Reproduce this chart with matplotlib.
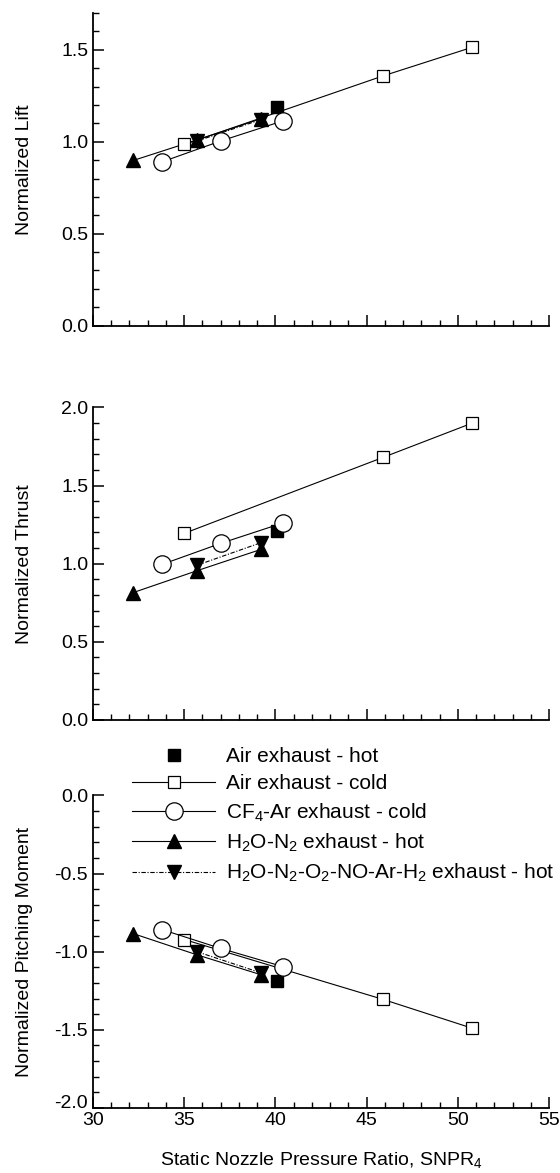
import matplotlib
matplotlib.use("Agg")
import matplotlib.pyplot as plt
from matplotlib.ticker import MultipleLocator, FuncFormatter
from matplotlib.lines import Line2D
from matplotlib.transforms import ScaledTranslation, blended_transform_factory

plt.rcParams['font.family'] = ['Liberation Sans', 'DejaVu Sans']
plt.rcParams['mathtext.default'] = 'regular'

# series x positions (static nozzle pressure ratio)
air_hot_x = [40.1]
air_cold_x = [35.0, 45.9, 50.8]
cf4_x = [33.8, 37.0, 40.4]
h2o_x = [32.2, 35.7, 39.2]
mix_x = [35.7, 39.2]

# normalized lift
air_hot_lift = [1.19]
air_cold_lift = [0.985, 1.358, 1.514]
cf4_lift = [0.891, 1.004, 1.113]
h2o_lift = [0.898, 1.01, 1.125]
mix_lift = [1.004, 1.12]

# normalized thrust
air_hot_thrust = [1.21]
air_cold_thrust = [1.194, 1.68, 1.90]
cf4_thrust = [0.996, 1.13, 1.26]
h2o_thrust = [0.815, 0.955, 1.091]
mix_thrust = [0.99, 1.134]

# normalized pitching moment
air_hot_pm = [-1.19]
air_cold_pm = [-0.922, -1.305, -1.49]
cf4_pm = [-0.859, -0.979, -1.095]
h2o_pm = [-0.884, -1.02, -1.147]
mix_pm = [-1.0, -1.135]

labels = ["Air exhaust - hot", "Air exhaust - cold", "CF$_4$-Ar exhaust - cold",
          "H$_2$O-N$_2$ exhaust - hot",
          "H$_2$O-N$_2$-O$_2$-NO-Ar-H$_2$ exhaust - hot"]

dashdot = (0, (4, 1.5, 1, 1.5))
lw = 0.8

fig = plt.figure(figsize=(5.6, 11.73), dpi=100)
left, width, height = 0.1661, 0.8143, 0.2665
bottoms = [0.7224, 0.3862, 0.0554]
ylims = [(0, 1.7), (0, 2.0), (-2.0, 0)]
ylabels = ["Normalized Lift", "Normalized Thrust", "Normalized Pitching Moment"]
data = [
    (air_hot_lift, air_cold_lift, cf4_lift, h2o_lift, mix_lift),
    (air_hot_thrust, air_cold_thrust, cf4_thrust, h2o_thrust, mix_thrust),
    (air_hot_pm, air_cold_pm, cf4_pm, h2o_pm, mix_pm),
]

axes = []
for i in range(3):
    ax = fig.add_axes([left, bottoms[i], width, height])
    hot, cold, cf4, h2o, mix = data[i]
    ax.plot(h2o_x, h2o, color='black', lw=lw, marker='^', ms=10, mfc='black', mec='black')
    ax.plot(mix_x, mix, color='black', lw=lw, ls=dashdot, marker='v', ms=10, mfc='black', mec='black')
    ax.plot(air_cold_x, cold, color='black', lw=lw, marker='s', ms=9, mfc='white', mec='black', mew=0.9)
    ax.plot(air_hot_x, hot, ls='none', marker='s', ms=9, mfc='black', mec='black')
    ax.plot(cf4_x, cf4, color='black', lw=lw, marker='o', ms=12.5, mfc='white', mec='black', mew=0.9)

    ax.set_xlim(30, 55)
    ax.set_ylim(*ylims[i])
    ax.xaxis.set_major_locator(MultipleLocator(5))
    ax.xaxis.set_minor_locator(MultipleLocator(1))
    ax.yaxis.set_major_locator(MultipleLocator(0.5))
    ax.yaxis.set_minor_locator(MultipleLocator(0.1))
    ax.yaxis.set_major_formatter(plt.FormatStrFormatter('%.1f'))
    ax.spines['top'].set_visible(False)
    ax.spines['right'].set_visible(False)
    ax.spines['left'].set_linewidth(1.3)
    ax.spines['bottom'].set_linewidth(1.3)
    ax.tick_params(which='major', direction='in', length=8, width=1.1, labelsize=14)
    ax.tick_params(which='minor', direction='in', length=4.5, width=1.0)
    ax.tick_params(axis='x', pad=3)
    ax.set_ylabel(ylabels[i], fontsize=14)
    ax.yaxis.set_label_coords(-0.1316, 0.5)
    if i < 2:
        ax.tick_params(axis='x', labelbottom=False)
    axes.append(ax)

axes[2].set_xlabel("Static Nozzle Pressure Ratio, SNPR$_4$", fontsize=14, labelpad=15)

# the bottom "-2.0" sits a little higher, beside the "30"
ymin = ylims[2][0]
axes[2].yaxis.set_major_formatter(FuncFormatter(lambda v, p: '' if abs(v - ymin) < 1e-9 else '%.1f' % v))
trans = blended_transform_factory(axes[2].transAxes, axes[2].transData) + \
    ScaledTranslation(-5 / 100, 5 / 100, fig.dpi_scale_trans)
axes[2].text(0, ymin, '%.1f' % ymin, transform=trans, ha='right', va='center', fontsize=14)

handles = [
    Line2D([], [], ls='none', marker='s', ms=9, mfc='black', mec='black'),
    Line2D([], [], color='black', lw=lw, marker='s', ms=9, mfc='white', mec='black', mew=0.9),
    Line2D([], [], color='black', lw=lw, marker='o', ms=12.5, mfc='white', mec='black', mew=0.9),
    Line2D([], [], color='black', lw=lw, marker='^', ms=10, mfc='black', mec='black'),
    Line2D([], [], color='black', lw=lw, ls=dashdot, marker='v', ms=10, mfc='black', mec='black'),
]
fig.legend(handles, labels, loc='upper left', bbox_to_anchor=(0.2357, 0.3631),
           bbox_transform=fig.transFigure, frameon=False, fontsize=15,
           handlelength=4.0, handletextpad=0.5, labelspacing=0.39,
           borderpad=0, borderaxespad=0)

fig.savefig("out.png", dpi=100)
